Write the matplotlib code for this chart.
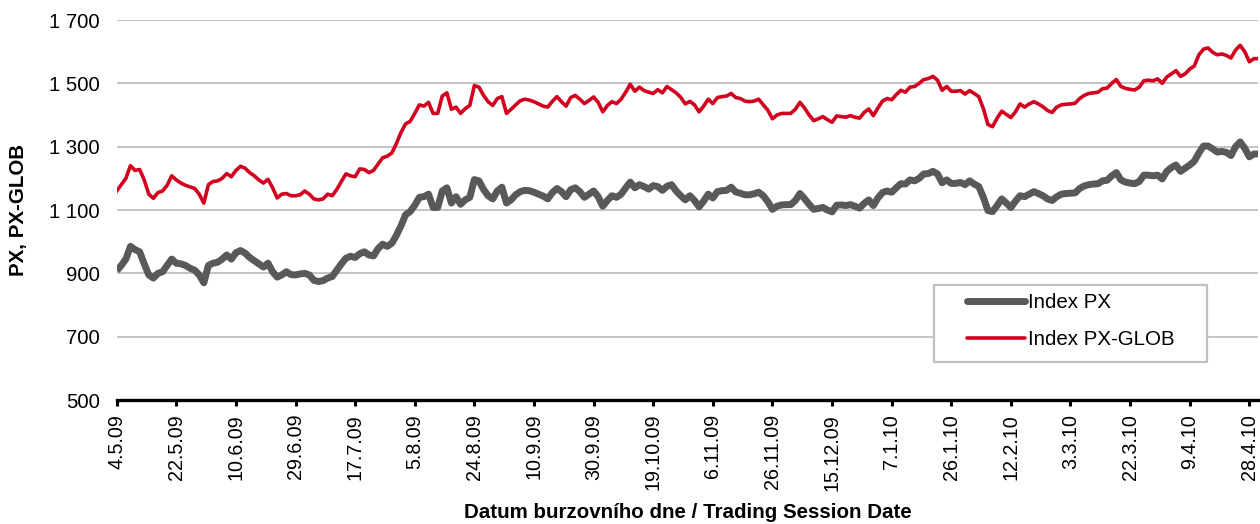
import matplotlib
matplotlib.use("Agg")
import matplotlib.pyplot as plt
from matplotlib.ticker import FuncFormatter, FixedLocator
from matplotlib.patches import Rectangle

plt.rcParams['font.family'] = ['Liberation Sans', 'DejaVu Sans']

# ---- data ----
tick_labels = ["4.5.09", "22.5.09", "10.6.09", "29.6.09", "17.7.09", "5.8.09",
               "24.8.09", "10.9.09", "30.9.09", "19.10.09", "6.11.09", "26.11.09",
               "15.12.09", "7.1.10", "26.1.10", "12.2.10", "3.3.10", "22.3.10",
               "9.4.10", "28.4.10"]
tick_step = 13  # trading sessions between labelled dates

px = [908, 925, 945, 985, 975, 968, 930, 895, 885, 900, 905, 925, 945, 932, 930, 925, 916, 910, 895, 870,
      925, 932, 935, 945, 958, 945, 965, 972, 964, 950, 940, 930, 920, 932, 905, 888, 895, 905, 896, 895, 898,
      900, 895, 878, 874, 877, 885, 890, 910, 930, 948, 954, 950, 962, 968, 958, 955, 978, 992, 985, 995,
      1020, 1050, 1085, 1095, 1115, 1140, 1142, 1150, 1108, 1108, 1160, 1170, 1122, 1142, 1118, 1132, 1140,
      1196, 1192, 1165, 1145,
      1135, 1160, 1172, 1122, 1132, 1148, 1158, 1162, 1161, 1156, 1150, 1144, 1135, 1155, 1168, 1158, 1142,
      1164, 1170, 1158, 1140, 1150, 1160, 1142, 1112, 1130, 1145, 1140, 1150, 1170, 1188, 1170, 1180, 1174,
      1166, 1177, 1174, 1162, 1175, 1180, 1160, 1145,
      1132, 1145, 1130, 1110, 1128, 1150, 1138, 1158, 1161, 1162, 1172, 1157, 1153, 1148, 1148, 1151, 1156,
      1145, 1126, 1102, 1112, 1116, 1117, 1117, 1130, 1152, 1136, 1118, 1102, 1105, 1108, 1100, 1094, 1115,
      1116, 1114, 1117, 1112, 1106, 1121, 1132,
      1114, 1138, 1155, 1160, 1156, 1170, 1183, 1182, 1195, 1192, 1200, 1214, 1215, 1222, 1214, 1186, 1195,
      1184, 1184, 1187, 1180, 1192, 1182, 1174, 1140, 1098, 1095, 1114, 1135, 1122, 1108, 1128, 1145, 1142,
      1150, 1158, 1152, 1145, 1135, 1130, 1142,
      1150, 1152, 1153, 1154, 1168, 1176, 1180, 1182, 1183, 1192, 1194, 1208, 1218, 1195, 1188, 1185, 1183,
      1190, 1210, 1210, 1208, 1210, 1198, 1222, 1234, 1242, 1222, 1232, 1242, 1254, 1280, 1302, 1302, 1293,
      1283, 1285, 1282, 1272, 1300, 1315, 1295, 1268, 1277, 1277]

px_glob = [1160, 1180, 1200, 1240, 1225, 1228, 1195, 1150, 1137, 1155, 1160, 1178, 1208, 1195, 1185, 1178,
           1173, 1168, 1150, 1122, 1180, 1190, 1192, 1200, 1215, 1205, 1225, 1238, 1232, 1218, 1208, 1195,
           1185, 1197, 1170, 1138, 1150, 1152, 1145, 1145, 1148,
           1160, 1150, 1135, 1132, 1135, 1150, 1145, 1165, 1190, 1214, 1208, 1205, 1230, 1228, 1218, 1225,
           1245, 1265, 1270, 1280, 1310, 1345, 1372, 1380, 1405, 1432, 1428, 1440, 1405, 1405, 1460, 1470,
           1418, 1425, 1405, 1420, 1430, 1493, 1488, 1462, 1442,
           1430, 1452, 1458, 1405, 1418, 1432, 1445, 1450, 1447, 1442, 1435, 1428, 1425, 1443, 1458, 1442,
           1428, 1455, 1462, 1450, 1436, 1446, 1457, 1440, 1410, 1430, 1442, 1436, 1450, 1472, 1497, 1475,
           1488, 1477, 1472, 1468, 1480, 1470, 1490, 1480, 1470, 1456,
           1435, 1443, 1432, 1410, 1428, 1450, 1436, 1455, 1458, 1460, 1468, 1455, 1452, 1444, 1442, 1444,
           1450, 1432, 1415, 1388, 1400, 1405, 1405, 1405, 1418, 1440, 1422, 1400, 1382, 1388, 1395, 1385,
           1377, 1397, 1395, 1393, 1398, 1393, 1390, 1408, 1419,
           1398, 1422, 1444, 1452, 1448, 1464, 1478, 1472, 1488, 1490, 1500, 1512, 1515, 1522, 1510, 1478,
           1490, 1475, 1475, 1477, 1466, 1477, 1468, 1458, 1420, 1370, 1363, 1390, 1412, 1402, 1392, 1410,
           1435, 1425, 1435, 1442, 1435, 1426, 1414, 1408, 1425,
           1432, 1434, 1435, 1437, 1452, 1462, 1468, 1470, 1472, 1483, 1485, 1500, 1512, 1490, 1484, 1481,
           1479, 1488, 1508, 1510, 1508, 1514, 1500, 1520, 1530, 1540, 1522, 1530, 1545, 1555, 1590, 1608,
           1612, 1598, 1590, 1593, 1588, 1580, 1605, 1620, 1600, 1568, 1578, 1578]

series_names = ["Index PX", "Index PX-GLOB"]
y_ticks = [500, 700, 900, 1100, 1300, 1500, 1700]

# ---- figure ----
W, H = 1260, 524
fig = plt.figure(figsize=(W / 100, H / 100), dpi=100)
L, R, T, B = 116.7, 1258.5, 20, 400
ax = fig.add_axes([L / W, 1 - B / H, (R - L) / W, (B - T) / H])

x = list(range(len(px)))
GRAY = '#595959'
RED = '#D2001E'
ax.plot(x, px, color=GRAY, lw=5.0, solid_joinstyle='round', solid_capstyle='butt', zorder=3,
        label=series_names[0])
ax.plot(x, px_glob, color=RED, lw=2.6, solid_joinstyle='round', zorder=4, label=series_names[1])

ax.set_xlim(0, len(px) - 1)
ax.set_ylim(500, 1700)
ax.yaxis.set_major_locator(FixedLocator(y_ticks))
ax.yaxis.set_major_formatter(FuncFormatter(lambda v, p: f"{int(v):,}".replace(",", " ")))
ax.grid(axis='y', color='#BFBFBF', lw=1.3, zorder=0)
ax.set_axisbelow(True)

ax.set_xticks([i * tick_step for i in range(len(tick_labels))])
ax.set_xticklabels(tick_labels, rotation=90, fontsize=14.2)
ax.tick_params(axis='x', direction='out', length=4, width=2.2, color='black', pad=6)
ax.tick_params(axis='y', length=0, pad=12, labelsize=14.6)

for s in ['top', 'right', 'left']:
    ax.spines[s].set_visible(False)
ax.spines['bottom'].set_color('black')
ax.spines['bottom'].set_linewidth(2.4)
ax.spines['bottom'].set_capstyle('projecting')

# axis titles
fig.text((L + R) / 2 / W, 1 - 513 / H, "Datum burzovního dne / Trading Session Date",
         ha='center', va='center', fontsize=14.8, fontweight='bold')
fig.text(19 / W, 1 - 210 / H, "PX, PX-GLOB", rotation=90, ha='center', va='center',
         fontsize=14.8, fontweight='bold')

# legend box + legend
box = Rectangle((934 / W, 1 - 362 / H), (1207 - 934) / W, (362 - 285) / H,
                transform=fig.transFigure, facecolor='white', edgecolor='#BFBFBF', lw=1.6, zorder=4)
fig.patches.append(box)
handles, labels = ax.get_legend_handles_labels()
leg = fig.legend(handles, labels, loc='center left', bbox_to_anchor=(967 / W, 1 - 321 / H),
                 frameon=False, borderpad=0, borderaxespad=0, handlelength=2.8,
                 handletextpad=0.15, labelspacing=0.88, fontsize=14.8)
leg.set_zorder(6)
for ln in leg.get_lines():
    ln.set_solid_capstyle('round')

fig.savefig("out.png", dpi=100)
